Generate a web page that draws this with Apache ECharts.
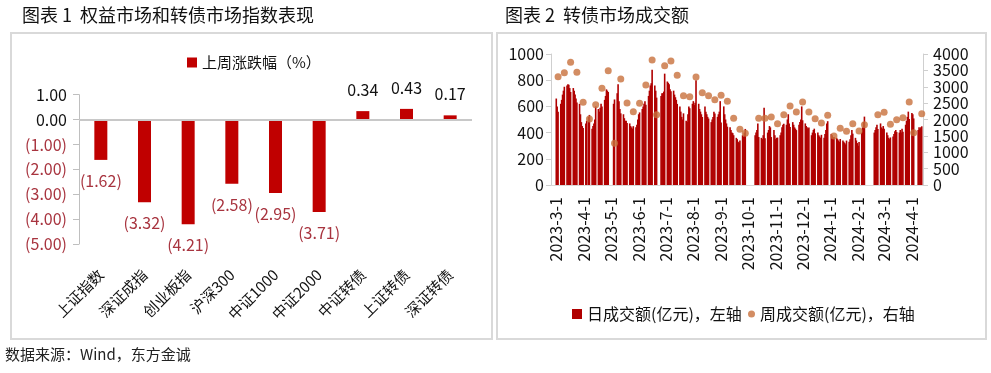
<!DOCTYPE html>
<html><head><meta charset="utf-8">
<script src="https://cdn.jsdelivr.net/npm/echarts@6/dist/echarts.min.js"></script>
<style>html,body{margin:0;padding:0;background:#fff}#c{width:991px;height:373px}</style>
</head><body><div id="c"></div>
<script>
const FONT = '"Noto Sans CJK SC","Microsoft YaHei",sans-serif';
const NEG = '#a8343f';

// ---- Chart 1 data ----
const indexNames = ['上证指数','深证成指','创业板指','沪深300','中证1000','中证2000','中证转债','上证转债','深证转债'];
const weeklyChange = [-1.62,-3.32,-4.21,-2.58,-2.95,-3.71,0.34,0.43,0.17];

// ---- Chart 2 data ----
const weekMondays = ['2023-02-27','2023-03-06','2023-03-13','2023-03-20','2023-03-27','2023-04-03','2023-04-10','2023-04-17','2023-04-24','2023-05-01','2023-05-08','2023-05-15','2023-05-22','2023-05-29','2023-06-05','2023-06-12','2023-06-19','2023-06-26','2023-07-03','2023-07-10','2023-07-17','2023-07-24','2023-07-31','2023-08-07','2023-08-14','2023-08-21','2023-08-28','2023-09-04','2023-09-11','2023-09-18','2023-09-25','2023-10-09','2023-10-16','2023-10-23','2023-10-30','2023-11-06','2023-11-13','2023-11-20','2023-11-27','2023-12-04','2023-12-11','2023-12-18','2023-12-25','2024-01-01','2024-01-08','2024-01-15','2024-01-22','2024-01-29','2024-02-05','2024-02-19','2024-02-26','2024-03-04','2024-03-11','2024-03-18','2024-03-25','2024-04-01','2024-04-08'];
// daily turnover (亿元), Mon..Fri of each week, null = no trading
const dailyTurnover = [
[null,null,660,600,560],[620,650,690,720,750],[760,770,765,740,710],[740,720,690,660,630],
[620,540,480,450,435],[470,490,null,520,535],[430,450,470,500,600],[580,560,590,620,600],
[650,680,730,720,710],[null,null,null,620,653],[700,770,640,580,547],[540,510,490,490,474],
[470,450,440,430,449],[440,460,500,540,554],[580,600,620,640,613],[680,720,760,777,880],
[760,720,667,null,null],[680,700,700,713,850],[790,780,770,730,716],[720,690,670,650,619],
[600,560,520,500,547],[490,480,540,600,586],[620,640,610,628,800],[620,580,560,540,519],
[600,560,540,520,507],[480,500,520,560,545],[520,540,560,640,478],[600,540,500,470,445],
[440,420,400,396,380],[360,350,330,320,340],[380,370,400,428,null],[380,400,420,470,366],
[360,350,380,590,356],[400,420,450,440,366],[420,380,350,360,362],[380,400,440,460,467],
[460,500,540,470,442],[480,460,440,430,419],[460,480,500,600,494],[470,450,440,430,439],
[380,400,420,430,395],[400,380,370,360,383],[360,390,420,470,487],[null,390,380,360,366],
[360,350,340,330,351],[340,330,320,310,339],[330,350,380,420,392],[360,340,320,300,329],
[400,440,480,522,null],[400,420,440,460,427],[470,440,430,450,429],[400,380,360,350,363],
[370,390,410,420,404],[400,420,400,430,406],[460,490,520,560,504],[550,540,508,null,null],
[420,440,430,440,448]
];
const weeklyTurnover = [3307,3429,3746,3441,2525,2015,2452,2953,3490,1273,3237,2504,2239,2494,3053,3817,2147,3643,3786,3349,2727,2696,3298,2819,2727,2605,2738,2555,2040,1705,1578,2036,2036,2076,1872,2147,2412,2229,2534,2229,2025,1893,2127,1496,1731,1639,1872,1649,1842,2147,2219,1853,1994,2056,2534,1598,2178];

const DAY = 86400000;
const ts = s => { const [y,m,d] = s.split('-').map(Number); return new Date(y, m-1, d).getTime(); };
const barData = [], dotData = [];
weekMondays.forEach((w, i) => {
  const t0 = ts(w); let last = null;
  dailyTurnover[i].forEach((v, k) => { if (v != null) { barData.push([t0 + k*DAY, v]); last = t0 + k*DAY; } });
  dotData.push([last, weeklyTurnover[i]]);
});
const fmtNeg = v => v < 0 ? '(' + Math.abs(v).toFixed(2) + ')' : v.toFixed(2);

const chart = echarts.init(document.getElementById('c'));
chart.setOption({
  animation: false,
  textStyle: { fontFamily: FONT },
  graphic: [
    { type:'rect', shape:{x:11,y:33,width:481,height:306}, style:{fill:'none',stroke:'#d9d9d9',lineWidth:2}, silent:true },
    { type:'rect', shape:{x:497,y:33,width:489,height:306}, style:{fill:'none',stroke:'#d9d9d9',lineWidth:2}, silent:true },
    { type:'text', left:22, top:6, style:{text:'图表 1  权益市场和转债市场指数表现', font:'18px '+FONT, fill:'#111'} },
    { type:'text', left:505, top:6, style:{text:'图表 2  转债市场成交额', font:'18px '+FONT, fill:'#111'} },
    { type:'text', left:5, top:347, style:{text:'数据来源：Wind，东方金诚', font:'15px '+FONT, fill:'#222'} }
  ],
  legend: [
    { data:['上周涨跌幅（%）'], left:182, top:50, itemWidth:10, itemHeight:10, icon:'rect', textStyle:{fontSize:15, color:'#111', fontFamily:FONT} },
    { data:[{name:'日成交额(亿元)，左轴', icon:'rect'}], left:567, top:301, itemWidth:10, itemHeight:10, textStyle:{fontSize:16, color:'#111', fontFamily:FONT} },
    { data:[{name:'周成交额(亿元)，右轴', icon:'circle'}], left:743, top:301, itemWidth:7, itemHeight:7, textStyle:{fontSize:16, color:'#111', fontFamily:FONT} }
  ],
  grid: [
    { left:79, right:519, top:94.7, bottom:129 },
    { left:551, right:68, top:54, bottom:188 }
  ],
  xAxis: [
    { type:'category', gridIndex:0, data:indexNames, axisLine:{show:false}, axisTick:{show:false},
      axisLabel:{rotate:45, margin:28, fontSize:15, color:'#111', interval:0} },
    { type:'time', gridIndex:1, min:new Date(2023,1,24).getTime(), max:new Date(2024,3,12,12).getTime(),
      minInterval:28*DAY, maxInterval:31*DAY,
      axisLine:{lineStyle:{color:'#d9d9d9'}}, axisTick:{show:false}, splitLine:{show:false},
      axisLabel:{rotate:90, fontSize:16, color:'#111', margin:12, showMinLabel:false, showMaxLabel:false,
        formatter: v => { const d = new Date(v); return d.getFullYear() + '-' + (d.getMonth()+1) + '-' + d.getDate(); } } }
  ],
  yAxis: [
    { type:'value', gridIndex:0, min:-5, max:1, interval:1,
      axisLine:{show:true, lineStyle:{color:'#bfbfbf'}}, axisTick:{show:true, length:6, lineStyle:{color:'#bfbfbf'}}, splitLine:{show:false},
      axisLabel:{fontSize:16, margin:12, formatter: fmtNeg, color: v => (+v < 0 ? NEG : '#111')} },
    { type:'value', gridIndex:1, min:0, max:1000, interval:200,
      axisLine:{show:true, lineStyle:{color:'#cfcfcf'}}, axisTick:{show:true, length:5, lineStyle:{color:'#cfcfcf'}}, splitLine:{show:false},
      axisLabel:{fontSize:16, margin:7, color:'#111', formatter: v => String(v)} },
    { type:'value', gridIndex:1, position:'right', min:0, max:4000, interval:500,
      axisLine:{show:true, lineStyle:{color:'#cfcfcf'}}, axisTick:{show:true, length:5, lineStyle:{color:'#cfcfcf'}}, splitLine:{show:false},
      axisLabel:{fontSize:16, margin:10, color:'#111', formatter: v => String(v)} }
  ],
  series: [
    { type:'bar', name:'上周涨跌幅（%）', xAxisIndex:0, yAxisIndex:0, barWidth:13,
      itemStyle:{color:'#C00000'},
      data: weeklyChange.map(v => ({ value:v, label:{ position: v < 0 ? 'bottom' : 'top', color: v < 0 ? NEG : '#111' } })),
      label:{ show:true, fontSize:16, distance:13, formatter: p => fmtNeg(p.value) },
      markLine:{ silent:true, symbol:'none', label:{show:false}, lineStyle:{color:'#c8c8c8', width:2, type:'solid'}, data:[{yAxis:0}] } },
    { type:'bar', name:'日成交额(亿元)，左轴', xAxisIndex:1, yAxisIndex:1, barWidth:1.6,
      itemStyle:{color:'#B00000'}, data: barData },
    { type:'scatter', name:'周成交额(亿元)，右轴', xAxisIndex:1, yAxisIndex:2, symbolSize:7,
      itemStyle:{color:'#C8703C'}, data: dotData, z:3 }
  ]
});
</script></body></html>
